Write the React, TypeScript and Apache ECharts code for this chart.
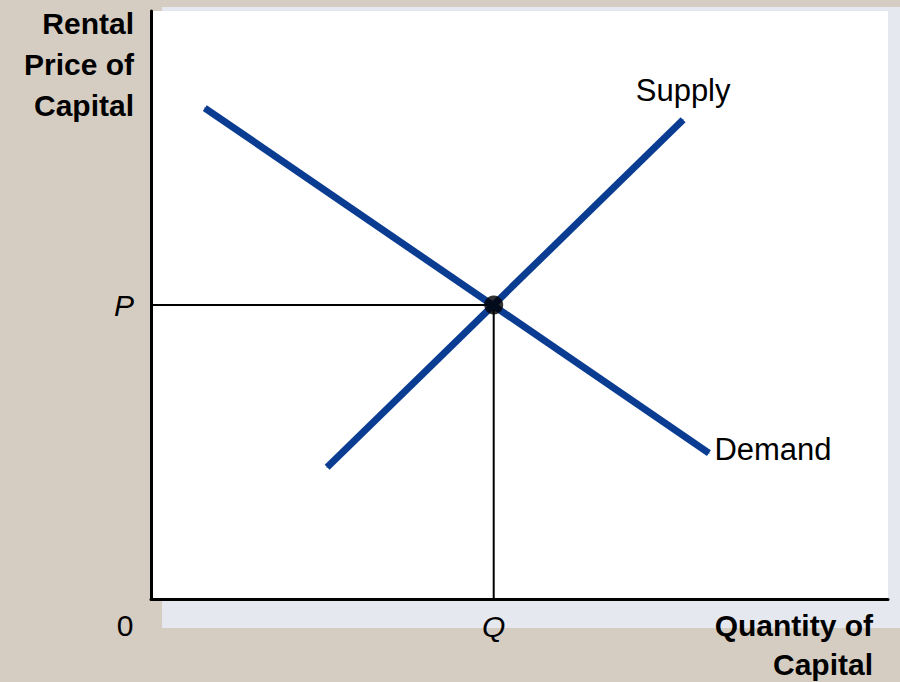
import React, { useEffect, useRef } from "react";
import * as echarts from "echarts";

const supplyX = [23.9, 72.2];
const supplyY = [22.4, 81.5];
const demandX = [7.3, 75.7];
const demandY = [83.5, 24.8];
const equilibrium = [46.5, 50];
const seriesNames = ["Supply", "Demand"];
const yTitle = "Rental\nPrice of\nCapital";
const xTitle = "Quantity of\nCapital";
const pLabel = "P";
const qLabel = "Q";

const BLUE = "#0a3d91";
const INK = "#000000";

export default function App() {
  const ref = useRef<HTMLDivElement>(null);
  useEffect(() => {
    if (!ref.current) return;
    const chart = echarts.init(ref.current, null, { renderer: "svg" });
    const mk = (xs: number[], ys: number[]) => xs.map((x, i) => [x, ys[i]]);
    const supply = mk(supplyX, supplyY);
    const demand = mk(demandX, demandY);
    const font = "'Liberation Sans', Arial, sans-serif";
    chart.setOption({
      animation: false,
      backgroundColor: "#d5cdc2",
      textStyle: { fontFamily: font },
      graphic: [
        { type: "rect", z: -20, silent: true, shape: { x: 162, y: 7, width: 738, height: 621 }, style: { fill: "#e6e8f0" } },
        { type: "rect", z: -10, silent: true, shape: { x: 152, y: 11, width: 736, height: 589 }, style: { fill: "#ffffff" } },
        {
          type: "text", x: 134, y: 3, z: 10,
          style: { text: yTitle, textAlign: "right", textVerticalAlign: "top", font: `bold 30px ${font}`, lineHeight: 41, fill: INK },
        },
        {
          type: "text", x: 873, y: 606, z: 10,
          style: { text: xTitle, textAlign: "right", textVerticalAlign: "top", font: `bold 30px ${font}`, lineHeight: 39, fill: INK },
        },
        {
          type: "text", x: 125, y: 625, z: 10,
          style: { text: "0", textAlign: "center", textVerticalAlign: "middle", font: `30px ${font}`, fill: INK },
        },
      ],
      grid: { left: 151, right: 12, top: 11, bottom: 83 },
      xAxis: {
        type: "value", min: 0, max: 100,
        axisLine: { show: true, lineStyle: { color: INK, width: 3 } },
        axisTick: { show: false },
        splitLine: { show: false },
        axisLabel: {
          customValues: [equilibrium[0]],
          formatter: () => qLabel,
          fontStyle: "italic", fontSize: 30, color: INK, margin: 12, fontFamily: font,
        },
      },
      yAxis: {
        type: "value", min: 0, max: 100,
        axisLine: { show: true, lineStyle: { color: INK, width: 3 } },
        axisTick: { show: false },
        splitLine: { show: false },
        axisLabel: {
          customValues: [equilibrium[1]],
          formatter: () => pLabel,
          fontStyle: "italic", fontSize: 30, color: INK, margin: 17, fontFamily: font,
        },
      },
      series: [
        {
          type: "line", data: [[0, equilibrium[1]], equilibrium], symbol: "none", z: 3,
          lineStyle: { color: INK, width: 2 },
        },
        {
          type: "line", data: [equilibrium, [equilibrium[0], 0]], symbol: "none", z: 3,
          lineStyle: { color: INK, width: 2 },
        },
        {
          name: seriesNames[0], type: "line", symbol: "circle", symbolSize: 1, showSymbol: true, z: 4,
          itemStyle: { color: BLUE },
          lineStyle: { color: BLUE, width: 7, cap: "butt" },
          data: supply.map((p, i) => i === supply.length - 1
            ? { value: p, label: { show: true, position: "top", distance: 13, formatter: seriesNames[0], fontSize: 31, color: INK, fontFamily: font } }
            : { value: p }),
        },
        {
          name: seriesNames[1], type: "line", symbol: "circle", symbolSize: 1, showSymbol: true, z: 4,
          itemStyle: { color: BLUE },
          lineStyle: { color: BLUE, width: 7, cap: "butt" },
          data: demand.map((p, i) => i === demand.length - 1
            ? { value: p, label: { show: true, position: "right", distance: 5, offset: [0, -4], formatter: seriesNames[1], fontSize: 31, color: INK, fontFamily: font } }
            : { value: p }),
        },
        {
          type: "scatter", data: [equilibrium], symbol: "circle", symbolSize: 19, z: 5,
          itemStyle: { color: "#000000" },
        },
      ],
    });
    return () => chart.dispose();
  }, []);
  return <div ref={ref} style={{ width: 900, height: 682, position: "absolute", left: 0, top: 0 }} />;
}
